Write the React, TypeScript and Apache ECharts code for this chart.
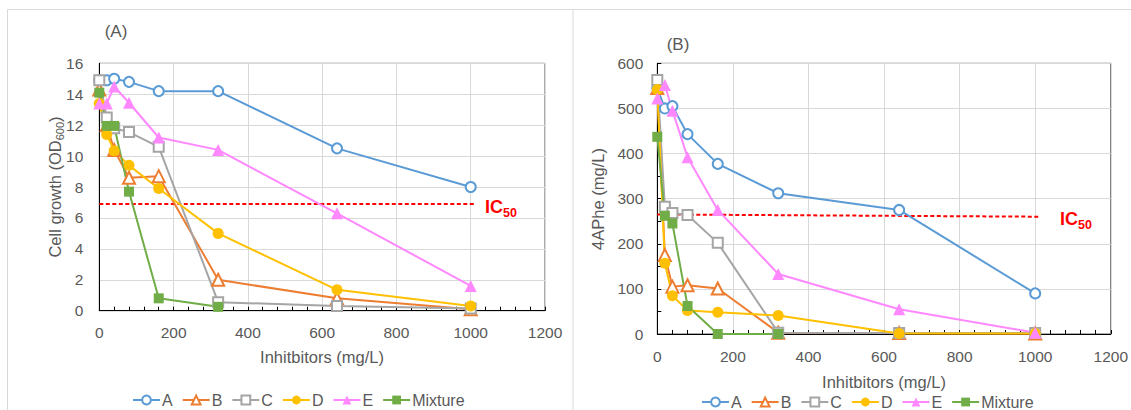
import React, { useEffect, useRef } from "react";
import * as echarts from "echarts";

// ---------- data ----------
const doses = [0, 20, 40, 80, 160, 320, 640, 1000];
const mixtureDoses = [0, 20, 40, 80, 160, 320];
const seriesNames = ["A", "B", "C", "D", "E", "Mixture"];

// (A) Cell growth (OD600)
const growthA = [14.9, 14.9, 15.0, 14.8, 14.2, 14.2, 10.5, 8.0];
const growthB = [14.3, 12.0, 10.4, 8.6, 8.7, 2.0, 0.8, 0.1];
const growthC = [14.9, 12.5, 11.8, 11.55, 10.6, 0.55, 0.3, 0.15];
const growthD = [13.4, 11.4, 10.35, 9.4, 7.9, 5.0, 1.35, 0.3];
const growthE = [13.4, 13.4, 14.5, 13.45, 11.2, 10.4, 6.3, 1.6];
const growthMix = [14.1, 11.95, 11.95, 7.7, 0.8, 0.25];
const ic50Growth = [[0, 6.9], [1010, 6.9]];

// (B) 4APhe (mg/L)
const pheA = [545, 500, 505, 443, 377, 312, 275, 90];
const pheB = [545, 175, 105, 108, 101, 3, 2, 1];
const pheC = [563, 282, 268, 264, 202, 3, 2, 2];
const pheD = [542, 157, 85, 52, 48, 41, 1, 1];
const pheE = [522, 552, 495, 392, 275, 133, 55, 3];
const pheMix = [437, 262, 245, 62, 0, 0];
const ic50Phe = [[0, 265], [1010, 260]];

// ---------- styles ----------
const FONT = '"Liberation Sans", Arial, sans-serif';
const TXT = "#595959";
const GRIDC = "#D9D9D9";

const defs = [
  { name: "A", color: "#5B9BD5", symbol: "emptyCircle", size: 10, x: doses, g: growthA, p: pheA },
  { name: "B", color: "#ED7D31", symbol: "emptyTriangle", size: 12, x: doses, g: growthB, p: pheB },
  { name: "C", color: "#A5A5A5", symbol: "emptyRect", size: 10, x: doses, g: growthC, p: pheC },
  { name: "D", color: "#FFC000", symbol: "circle", size: 11, x: doses, g: growthD, p: pheD },
  { name: "E", color: "#FF88FF", symbol: "triangle", size: 12, x: doses, g: growthE, p: pheE },
  { name: "Mixture", color: "#70AD47", symbol: "rect", size: 10, x: mixtureDoses, g: growthMix, p: pheMix },
];

let measureCtx: CanvasRenderingContext2D | null = null;
function tw(text: string, size: number, weight: string) {
  if (!measureCtx) measureCtx = document.createElement("canvas").getContext("2d");
  measureCtx!.font = `${weight} ${size}px ${FONT}`;
  return measureCtx!.measureText(text).width;
}

function composite(
  parts: { t: string; sub?: boolean }[],
  o: { x: number; y: number; size: number; subSize: number; color: string; weight: string; rotation?: number; align: "center" | "left" }
) {
  const widths = parts.map((p) => tw(p.t, p.sub ? o.subSize : o.size, o.weight));
  const total = widths.reduce((a, b) => a + b, 0);
  let cx = o.align === "center" ? -total / 2 : 0;
  const subDy = 0.35 * o.size + 0.2 * o.size - 0.35 * o.subSize;
  const children = parts.map((p, i) => {
    const el = {
      type: "text",
      x: cx,
      y: p.sub ? subDy : 0,
      silent: true,
      style: {
        text: p.t,
        fill: o.color,
        fontSize: p.sub ? o.subSize : o.size,
        fontFamily: FONT,
        fontWeight: o.weight,
        align: "left",
        verticalAlign: "middle",
      },
    };
    cx += widths[i];
    return el;
  });
  return { type: "group", x: o.x, y: o.y, rotation: o.rotation || 0, silent: true, children };
}

function plainText(text: string, x: number, y: number, size: number, color = TXT) {
  return {
    type: "text",
    x,
    y,
    silent: true,
    style: { text, fill: color, fontSize: size, fontFamily: FONT, align: "center", verticalAlign: "middle" },
  };
}

const fmt = (v: number) => String(v);

function xAxisCfg(gridIndex: number) {
  return {
    type: "value",
    gridIndex,
    min: 0,
    max: 1200,
    interval: 200,
    axisLine: { show: true, lineStyle: { color: "#000", width: 1 } },
    axisTick: { show: true, inside: true, length: 4, lineStyle: { color: "#000" } },
    minorTick: { show: true, splitNumber: 5, length: 4, lineStyle: { color: "#000" } },
    splitLine: { show: true, lineStyle: { color: GRIDC, width: 1 } },
    axisLabel: { fontSize: 15.5, color: TXT, fontFamily: FONT, margin: 14, formatter: fmt },
  };
}

export default function App() {
  const ref = useRef<HTMLDivElement>(null);
  useEffect(() => {
    if (!ref.current) return;
    const chart = echarts.init(ref.current, null, { renderer: "svg" });

    const series: any[] = [];
    defs.forEach((d) => {
      const empty = d.symbol.startsWith("empty");
      [0, 1].forEach((k) => {
        const vals = k === 0 ? d.g : d.p;
        series.push({
          type: "line",
          name: d.name,
          xAxisIndex: k,
          yAxisIndex: k,
          data: d.x.map((xv, i) => [xv, vals[i]]),
          symbol: d.symbol,
          symbolSize: d.size,
          showAllSymbol: true,
          lineStyle: { color: d.color, width: 2 },
          itemStyle: { color: d.color, borderColor: d.color, borderWidth: empty ? 1.3 : 0 },
          emphasis: { disabled: true },
          z: 3,
        });
      });
    });
    [ic50Growth, ic50Phe].forEach((line, k) => {
      series.push({
        type: "line",
        name: "IC50",
        xAxisIndex: k,
        yAxisIndex: k,
        data: line,
        symbol: "none",
        lineStyle: { color: "#FF0000", width: 2, type: [4, 2.5] },
        emphasis: { disabled: true },
        z: 2,
      });
    });

    const legendCfg = (left: number, top: number) => ({
      data: seriesNames,
      left,
      top,
      orient: "horizontal",
      itemWidth: 27,
      itemHeight: 11,
      itemGap: 9,
      padding: 0,
      selectedMode: false,
      textStyle: { fontSize: 16, color: TXT, fontFamily: FONT, padding: [0, 0, 0, -3] },
    });

    const option: any = {
      animation: false,
      grid: [
        { left: 99.3, top: 63.3, width: 445.7, height: 247.4, show: true, borderColor: "#595959", borderWidth: 1, backgroundColor: "transparent" },
        { left: 657.3, top: 63.3, width: 453.7, height: 270.7, show: true, borderColor: "#595959", borderWidth: 1, backgroundColor: "transparent" },
      ],
      xAxis: [xAxisCfg(0), xAxisCfg(1)],
      yAxis: [
        {
          type: "value",
          gridIndex: 0,
          min: 0,
          max: 16,
          interval: 2,
          axisLine: { show: true, lineStyle: { color: "#000" } },
          axisTick: { show: false },
          splitLine: { show: true, lineStyle: { color: GRIDC } },
          axisLabel: { fontSize: 15.5, color: TXT, fontFamily: FONT, margin: 16, formatter: fmt },
        },
        {
          type: "value",
          gridIndex: 1,
          min: 0,
          max: 600,
          interval: 100,
          axisLine: { show: true, lineStyle: { color: "#000" } },
          axisTick: { show: true, inside: true, length: 4, lineStyle: { color: "#000" } },
          minorTick: { show: true, splitNumber: 2, length: 4, lineStyle: { color: "#000" } },
          splitLine: { show: true, lineStyle: { color: GRIDC } },
          axisLabel: { fontSize: 15.5, color: TXT, fontFamily: FONT, margin: 14, formatter: fmt },
        },
      ],
      legend: [legendCfg(132, 392), legendCfg(701, 394)],
      series,
      graphic: {
        elements: [
          { type: "rect", silent: true, shape: { x: 7.5, y: 9.5, width: 565.5, height: 420 }, style: { fill: "none", stroke: GRIDC, lineWidth: 1 } },
          { type: "line", silent: true, shape: { x1: 573, y1: 9.5, x2: 1131, y2: 9.5 }, style: { stroke: GRIDC, lineWidth: 1 } },
          plainText("(A)", 116, 31, 17),
          plainText("(B)", 678, 44, 17),
          plainText("Inhitbitors (mg/L)", 322, 357, 16.5),
          plainText("Inhitbitors (mg/L)", 884, 382, 16.5),
          composite([{ t: "Cell growth (OD" }, { t: "600", sub: true }, { t: ")" }], {
            x: 55, y: 187, size: 16.5, subSize: 11, color: TXT, weight: "normal", rotation: Math.PI / 2, align: "center",
          }),
          composite([{ t: "4APhe (mg/L)" }], {
            x: 598, y: 199, size: 16.5, subSize: 11, color: TXT, weight: "normal", rotation: Math.PI / 2, align: "center",
          }),
          composite([{ t: "IC" }, { t: "50", sub: true }], {
            x: 485, y: 207, size: 18, subSize: 12.5, color: "#FF0000", weight: "bold", align: "left",
          }),
          composite([{ t: "IC" }, { t: "50", sub: true }], {
            x: 1060, y: 219, size: 18, subSize: 12.5, color: "#FF0000", weight: "bold", align: "left",
          }),
        ],
      },
    };
    chart.setOption(option);
    return () => chart.dispose();
  }, []);
  return (
    <div
      ref={ref}
      style={{ position: "fixed", left: 0, top: 0, width: 1131, height: 410, background: "#fff" }}
    />
  );
}
